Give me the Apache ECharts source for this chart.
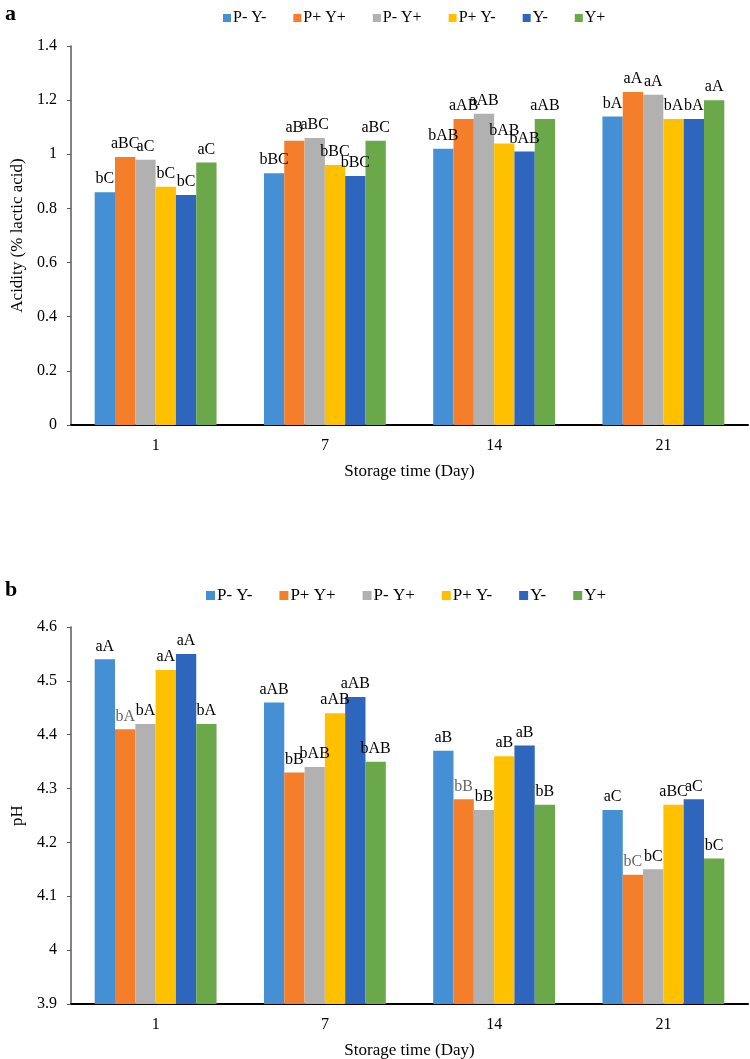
<!DOCTYPE html>
<html>
<head>
<meta charset="utf-8">
<script src="https://cdn.jsdelivr.net/npm/echarts@6/dist/echarts.min.js"></script>
<style>
html,body{margin:0;padding:0;background:#fff;}
#chart{width:750px;height:1059px;}
</style>
</head>
<body>
<div id="chart"></div>
<script>
const categories = ['1', '7', '14', '21'];
const seriesNames = ['P- Y-', 'P+ Y+', 'P- Y+', 'P+ Y-', 'Y-', 'Y+'];
const colors = ['#4590D4', '#F47E2A', '#B1B1B1', '#FFC000', '#2E65BD', '#6AA84A'];

// Panel a: acidity (% lactic acid)
const acidPmYm = [0.86, 0.93, 1.02, 1.14];
const acidPpYp = [0.99, 1.05, 1.13, 1.23];
const acidPmYp = [0.98, 1.06, 1.15, 1.22];
const acidPpYm = [0.88, 0.96, 1.04, 1.13];
const acidYm = [0.85, 0.92, 1.01, 1.13];
const acidYp = [0.97, 1.05, 1.13, 1.20];

const acidLblPmYm = ['bC', 'bBC', 'bAB', 'bA'];
const acidLblPpYp = ['aBC', 'aB', 'aAB', 'aA'];
const acidLblPmYp = ['aC', 'aBC', 'aAB', 'aA'];
const acidLblPpYm = ['bC', 'bBC', 'bAB', 'bA'];
const acidLblYm = ['bC', 'bBC', 'bAB', 'bA'];
const acidLblYp = ['aC', 'aBC', 'aAB', 'aA'];

// Panel b: pH
const phPmYm = [4.54, 4.46, 4.37, 4.26];
const phPpYp = [4.41, 4.33, 4.28, 4.14];
const phPmYp = [4.42, 4.34, 4.26, 4.15];
const phPpYm = [4.52, 4.44, 4.36, 4.27];
const phYm = [4.55, 4.47, 4.38, 4.28];
const phYp = [4.42, 4.35, 4.27, 4.17];

const phLblPmYm = ['aA', 'aAB', 'aB', 'aC'];
const phLblPpYp = ['bA', 'bB', 'bB', 'bC'];
const phLblPmYp = ['bA', 'bAB', 'bB', 'bC'];
const phLblPpYm = ['aA', 'aAB', 'aB', 'aBC'];
const phLblYm = ['aA', 'aAB', 'aB', 'aC'];
const phLblYp = ['bA', 'bAB', 'bB', 'bC'];

const acidValues = [acidPmYm, acidPpYp, acidPmYp, acidPpYm, acidYm, acidYp];
const acidLabels = [acidLblPmYm, acidLblPpYp, acidLblPmYp, acidLblPpYm, acidLblYm, acidLblYp];
const phValues = [phPmYm, phPpYp, phPmYp, phPpYm, phYm, phYp];
const phLabels = [phLblPmYm, phLblPpYp, phLblPmYp, phLblPpYm, phLblYm, phLblYp];

const FONT = 'Liberation Serif';

function makeSeries(values, labels, gridIdx, grayLbl) {
  return values.map((vals, i) => ({
    name: seriesNames[i],
    type: 'bar',
    xAxisIndex: gridIdx,
    yAxisIndex: gridIdx,
    barGap: '0%',
    barCategoryGap: '28%',
    itemStyle: { color: colors[i] },
    label: {
      show: true,
      position: 'top',
      distance: 5,
      fontFamily: FONT,
      fontSize: 16,
      color: '#000',
      formatter: p => labels[i][p.dataIndex]
    },
    data: vals.map((v, j) => {
      const item = { value: v };
      if (grayLbl && grayLbl(i, j)) item.label = { color: '#666' };
      return item;
    })
  }));
}

const axisLabelStyle = { fontFamily: FONT, fontSize: 16, color: '#000' };

const option = {
  animation: false,
  backgroundColor: '#fff',
  title: [
    { text: 'a', left: 0, top: -2, textStyle: { fontFamily: FONT, fontSize: 22, fontWeight: 'bold', color: '#000' } },
    { text: 'b', left: 0, top: 574, textStyle: { fontFamily: FONT, fontSize: 22, fontWeight: 'bold', color: '#000' } }
  ],
  legend: [
    {
      data: seriesNames, top: 5, left: 218, icon: 'rect', itemWidth: 8, itemHeight: 8, itemGap: 27,
      textStyle: { fontFamily: FONT, fontSize: 16, color: '#000', padding: [0, 0, 0, -3] },
      selectedMode: false
    },
    {
      data: seriesNames, top: 582, left: 201, icon: 'rect', itemWidth: 9, itemHeight: 9, itemGap: 27,
      textStyle: { fontFamily: FONT, fontSize: 17, color: '#000', padding: [0, 0, 0, -3] },
      selectedMode: false
    }
  ],
  grid: [
    { left: 71, right: 2, top: 46, height: 379, outerBoundsMode: 'none', containLabel: false },
    { left: 71, right: 2, top: 627, height: 377, outerBoundsMode: 'none', containLabel: false }
  ],
  xAxis: [0, 1].map(g => ({
    type: 'category',
    gridIndex: g,
    data: categories,
    axisLine: { lineStyle: { color: '#000', width: 2 } },
    axisTick: { show: false },
    axisLabel: Object.assign({ margin: 13 }, axisLabelStyle),
    name: 'Storage time (Day)',
    nameLocation: 'middle',
    nameGap: 38,
    nameTextStyle: { fontFamily: FONT, fontSize: 17, color: '#000' }
  })),
  yAxis: [
    {
      type: 'value', gridIndex: 0, min: 0, max: 1.4, interval: 0.2,
      axisLine: { show: true, lineStyle: { color: '#595959', width: 1.5 } },
      axisTick: { show: true, length: 4, lineStyle: { color: '#595959' } },
      splitLine: { show: false },
      axisLabel: Object.assign({ margin: 14, formatter: v => String(+v.toFixed(1)) }, axisLabelStyle),
      name: 'Acidity (% lactic acid)', nameLocation: 'middle', nameGap: 41,
      nameTextStyle: { fontFamily: FONT, fontSize: 17, color: '#000' }
    },
    {
      type: 'value', gridIndex: 1, min: 3.9, max: 4.6, interval: 0.1,
      axisLine: { show: true, lineStyle: { color: '#595959', width: 1.5 } },
      axisTick: { show: true, length: 4, lineStyle: { color: '#595959' } },
      splitLine: { show: false },
      axisLabel: Object.assign({ margin: 14, formatter: v => String(+v.toFixed(1)) }, axisLabelStyle),
      name: 'pH', nameLocation: 'middle', nameGap: 41,
      nameTextStyle: { fontFamily: FONT, fontSize: 17, color: '#000' }
    }
  ],
  series: [].concat(
    makeSeries(acidValues, acidLabels, 0, null),
    makeSeries(phValues, phLabels, 1, (i, j) => i === 1 && j !== 1)
  )
};

const chart = echarts.init(document.getElementById('chart'), null, { renderer: 'canvas' });
chart.setOption(option);
</script>
</body>
</html>
